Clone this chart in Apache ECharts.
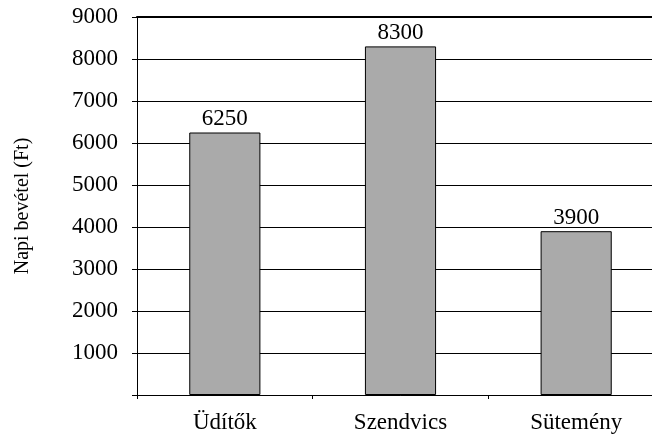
<!DOCTYPE html>
<html>
<head>
<meta charset="utf-8">
<script src="https://cdn.jsdelivr.net/npm/echarts@6/dist/echarts.min.js"></script>
<style>html,body{margin:0;padding:0;background:#fff;overflow:hidden}#c{width:664px;height:437px}</style>
</head>
<body>
<div id="c"></div>
<script>
const categories = ['Üdítők', 'Szendvics', 'Sütemény'];
const revenue = [6250, 8300, 3900];
const yTicks = [0, 1000, 2000, 3000, 4000, 5000, 6000, 7000, 8000, 9000];
const yName = 'Napi bevétel (Ft)';

const font = 'Liberation Serif';
const chart = echarts.init(document.getElementById('c'), null, {renderer: 'canvas'});
chart.setOption({
  animation: false,
  backgroundColor: '#ffffff',
  grid: {left: 137, top: 17, right: 0, bottom: 42, containLabel: false},
  xAxis: [{
    type: 'category',
    data: categories,
    boundaryGap: true,
    axisLine: {lineStyle: {color: '#000', width: 1}},
    axisTick: {show: true, length: 4, alignWithLabel: false, lineStyle: {color: '#000'}},
    axisLabel: {color: '#000', fontFamily: font, fontSize: 23, margin: 16}
  }, {
    type: 'category',
    position: 'top',
    data: categories,
    axisLine: {show: true, lineStyle: {color: '#000', width: 2}},
    axisTick: {show: false},
    axisLabel: {show: false}
  }],
  yAxis: {
    type: 'value',
    min: yTicks[0],
    max: yTicks[yTicks.length - 1],
    interval: 1000,
    name: yName,
    nameLocation: 'middle',
    nameGap: 104,
    nameTextStyle: {color: '#000', fontFamily: font, fontSize: 20},
    axisLine: {show: true, lineStyle: {color: '#000', width: 1}},
    axisTick: {show: true, length: 5, lineStyle: {color: '#000'}},
    axisLabel: {color: '#000', fontFamily: font, fontSize: 23, margin: 19,
      formatter: v => (v === 0 ? '' : String(v))},
    splitLine: {show: true, lineStyle: {color: '#000', width: 1}}
  },
  series: [{
    type: 'bar',
    data: revenue,
    barWidth: '40.5%',
    itemStyle: {color: '#aaaaaa', borderColor: '#000', borderWidth: 1},
    label: {show: true, position: 'top', distance: 2, color: '#000', fontFamily: font, fontSize: 23}
  }]
});
</script>
</body>
</html>
